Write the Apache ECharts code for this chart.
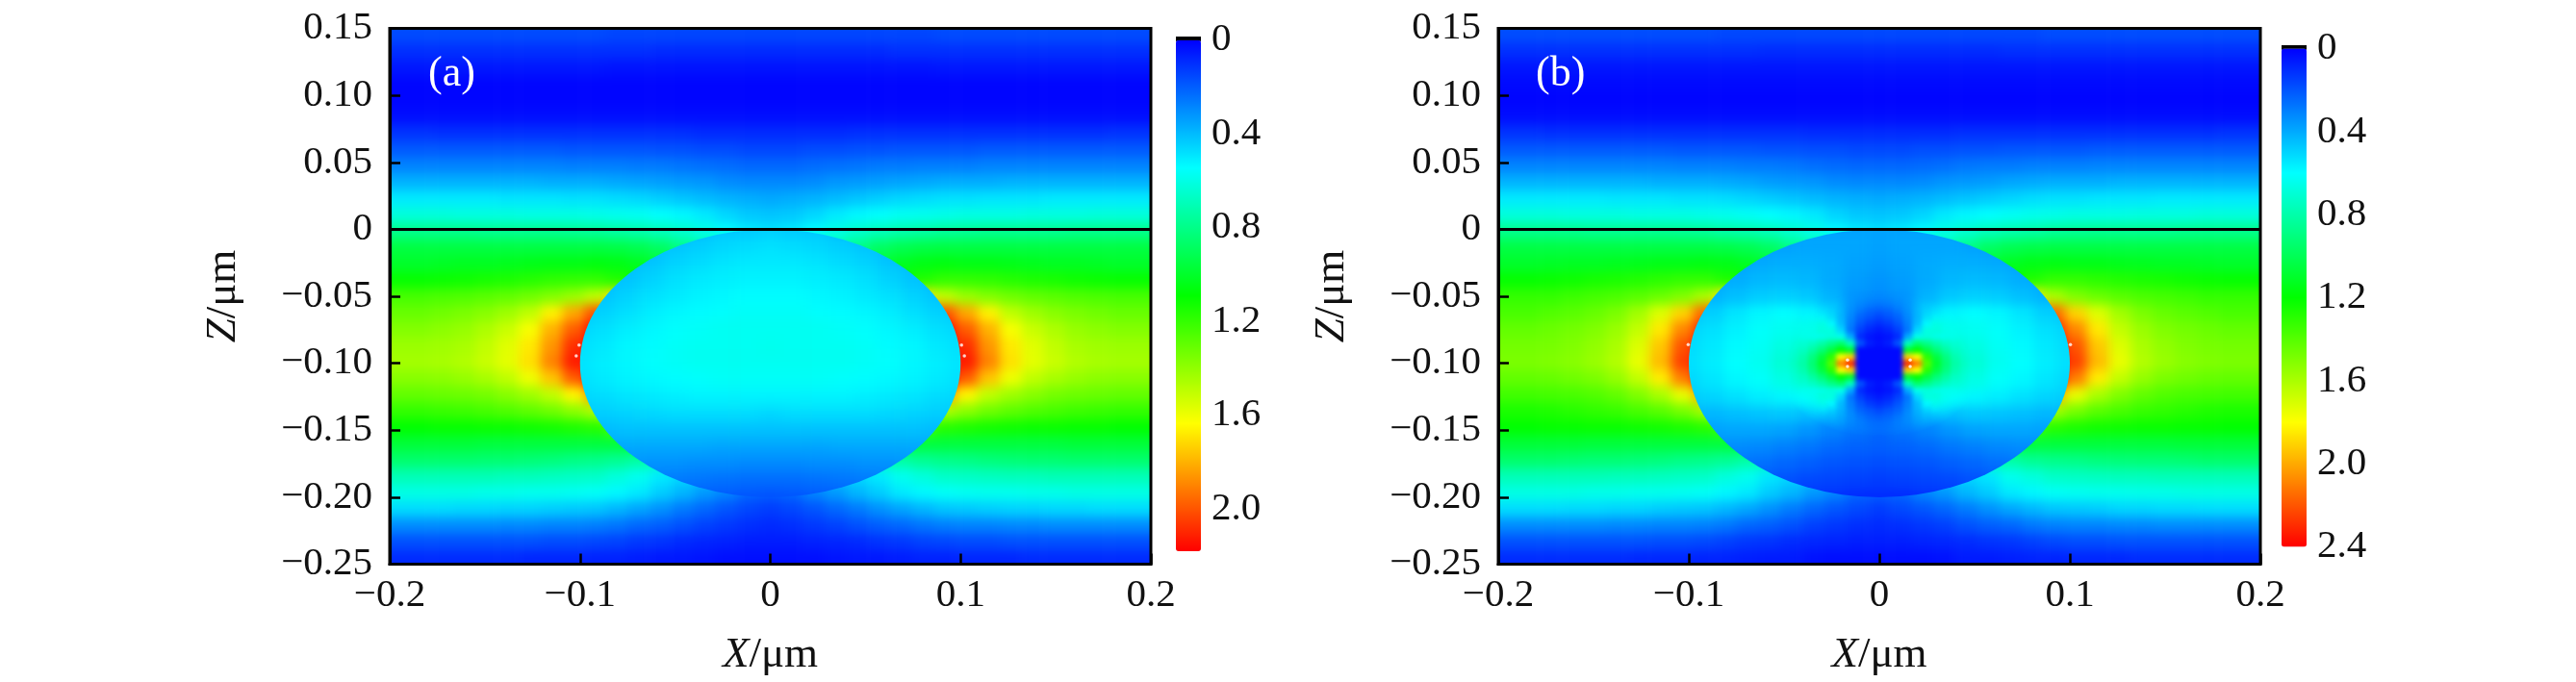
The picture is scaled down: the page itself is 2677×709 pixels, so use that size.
<!DOCTYPE html>
<html><head><meta charset="utf-8">
<script src="https://cdn.jsdelivr.net/npm/echarts@6/dist/echarts.min.js"></script>
<style>
html,body{margin:0;padding:0;background:#fff;width:2677px;height:709px;overflow:hidden}
.abs{position:absolute}
</style></head><body>
<div id="layers"></div>
<div id="overlay" class="abs" style="left:0;top:0;width:2677px;height:709px"></div>
<script>
// ---------- values ----------
const xTickLabels = ['\u22120.2','\u22120.1','0','0.1','0.2'];
const zTickLabels = ['\u22120.25','\u22120.20','\u22120.15','\u22120.10','\u22120.05','0','0.05','0.10','0.15'];
const barTicksA = ['0','0.4','0.8','1.2','1.6','2.0'];
const barTicksB = ['0','0.4','0.8','1.2','1.6','2.0','2.4'];
const maxA = 2.18, maxB = 2.4;

// nodes of the outer field: X >= 0 (the picture is mirror symmetric about X = 0)
const outerX = [0,.0125,.025,.0375,.05,.0625,.075,.0875,.1,.1125,.125,.1375,.15,.1625,.175,.1875,.2];
const outerZ = [.15,.1375,.125,.1125,.1,.0875,.075,.0625,.05,.0375,.025,.0125,0,-.0125,-.025,-.0375,-.05,-.0625,-.075,-.0875,-.1,-.1125,-.125,-.1375,-.15,-.1625,-.175,-.1875,-.2,-.2125,-.225,-.2375,-.25];
const outerA = [
[.15,.15,.15,.15,.15,.15,.15,.15,.16,.16,.16,.16,.16,.16,.16,.16,.16],
[.09,.09,.09,.09,.09,.09,.1,.1,.1,.1,.1,.1,.1,.1,.1,.1,.1],
[.04,.04,.04,.04,.04,.04,.04,.04,.05,.05,.05,.05,.05,.05,.05,.05,.05],
[.01,.01,.01,.01,.01,.01,.01,.01,.01,.01,.01,.01,.01,.01,.01,.01,.01],
[.01,.01,.01,.01,.01,.01,.01,.01,.01,.01,.01,.01,.01,.01,.01,.01,.01],
[.03,.03,.03,.03,.03,.03,.03,.03,.03,.03,.03,.03,.03,.03,.03,.03,.03],
[.09,.09,.09,.09,.1,.1,.1,.1,.1,.1,.1,.1,.1,.1,.1,.1,.11],
[.15,.15,.16,.16,.17,.17,.18,.18,.18,.18,.19,.19,.19,.19,.19,.19,.19],
[.22,.22,.23,.24,.25,.26,.26,.27,.27,.27,.28,.28,.28,.28,.28,.28,.28],
[.29,.29,.3,.32,.33,.34,.35,.36,.37,.37,.37,.38,.38,.38,.38,.38,.38],
[.36,.37,.38,.4,.42,.44,.46,.47,.48,.48,.49,.49,.49,.5,.5,.5,.5],
[.42,.43,.46,.5,.53,.55,.57,.58,.59,.6,.6,.6,.61,.61,.61,.62,.62],
[.48,.5,.54,.6,.65,.69,.72,.74,.76,.77,.78,.78,.78,.78,.79,.79,.79],
[.7,.7,.7,.72,.8,.88,.92,.94,.95,.95,.95,.95,.95,.95,.95,.95,.95],
[.8,.8,.85,.88,.92,.97,1.02,1.05,1.06,1.05,1.05,1.04,1.03,1.02,1.02,1.01,1],
[1,1,1,1,1.02,1.05,1.1,1.16,1.2,1.2,1.19,1.17,1.15,1.14,1.12,1.11,1.1],
[1.7,1.7,1.7,1.7,1.7,1.7,1.7,1.7,1.5,1.42,1.37,1.33,1.3,1.28,1.26,1.25,1.24],
[2.1,2.1,2.1,2.1,2.1,2.1,2.1,2.1,2,1.82,1.66,1.5,1.43,1.38,1.35,1.33,1.31],
[2.18,2.18,2.18,2.18,2.18,2.18,2.18,2.18,2.15,1.98,1.8,1.62,1.52,1.46,1.41,1.39,1.37],
[2.18,2.18,2.18,2.18,2.18,2.18,2.18,2.18,2.18,2.08,1.86,1.68,1.57,1.5,1.45,1.43,1.42],
[2.18,2.18,2.18,2.18,2.18,2.18,2.18,2.18,2.18,2.12,1.9,1.7,1.58,1.52,1.47,1.45,1.44],
[2.18,2.18,2.18,2.18,2.18,2.18,2.18,2.18,2.18,1.98,1.76,1.6,1.5,1.45,1.41,1.39,1.38],
[2,2,2,2,2,2,2,2,1.85,1.65,1.5,1.43,1.38,1.34,1.32,1.31,1.3],
[1.65,1.65,1.65,1.65,1.65,1.65,1.65,1.65,1.46,1.39,1.33,1.29,1.26,1.24,1.22,1.21,1.2],
[1.25,1.25,1.25,1.25,1.25,1.25,1.25,1.25,1.17,1.15,1.13,1.12,1.11,1.11,1.1,1.1,1.09],
[1,1,1,1,1,1,1,.96,.96,.96,.96,.96,.96,.96,.97,.97,.97],
[.65,.65,.65,.65,.66,.7,.74,.78,.8,.81,.83,.84,.85,.85,.86,.86,.86],
[.4,.4,.4,.42,.46,.5,.58,.62,.66,.67,.68,.69,.69,.7,.7,.7,.7],
[.2,.22,.28,.33,.39,.44,.5,.53,.56,.57,.58,.58,.59,.59,.6,.6,.6],
[.13,.15,.18,.22,.26,.31,.35,.39,.42,.43,.44,.45,.45,.46,.46,.47,.47],
[.09,.1,.12,.14,.17,.2,.22,.25,.27,.28,.28,.29,.29,.3,.3,.3,.3],
[.06,.06,.07,.08,.09,.11,.12,.14,.15,.16,.16,.17,.17,.17,.17,.17,.17],
[.03,.03,.03,.04,.05,.05,.06,.07,.07,.08,.08,.08,.09,.09,.09,.09,.09]];
const outerB = [
[.17,.17,.17,.17,.17,.17,.17,.17,.18,.18,.18,.18,.18,.18,.18,.18,.18],
[.1,.1,.1,.1,.1,.1,.11,.11,.11,.11,.11,.11,.11,.11,.11,.11,.11],
[.05,.05,.05,.05,.05,.05,.05,.05,.05,.05,.05,.05,.05,.05,.05,.05,.05],
[.02,.02,.02,.02,.02,.02,.02,.02,.02,.02,.02,.02,.02,.02,.02,.02,.02],
[.01,.01,.01,.01,.01,.01,.01,.01,.01,.01,.01,.01,.01,.01,.01,.01,.01],
[.03,.03,.03,.03,.03,.03,.03,.03,.03,.03,.03,.03,.03,.03,.03,.03,.03],
[.1,.1,.1,.1,.11,.11,.11,.11,.11,.11,.11,.11,.11,.11,.11,.11,.12],
[.17,.17,.18,.18,.19,.19,.2,.2,.2,.2,.21,.21,.21,.21,.21,.21,.21],
[.24,.24,.25,.26,.28,.29,.29,.3,.3,.3,.31,.31,.31,.31,.31,.31,.31],
[.32,.32,.33,.35,.36,.37,.39,.4,.41,.41,.41,.42,.42,.42,.42,.42,.42],
[.4,.41,.42,.44,.46,.48,.5,.52,.53,.53,.54,.54,.54,.55,.55,.55,.55],
[.46,.47,.5,.55,.58,.6,.62,.64,.65,.66,.66,.66,.67,.67,.67,.68,.68],
[.53,.55,.59,.66,.71,.76,.79,.81,.84,.85,.86,.86,.86,.86,.87,.87,.87],
[.77,.77,.77,.79,.88,.97,1.01,1.03,1.04,1.04,1.04,1.04,1.04,1.04,1.04,1.04,1.04],
[.88,.88,.94,.97,1.01,1.07,1.12,1.15,1.16,1.15,1.15,1.14,1.13,1.12,1.12,1.11,1.1],
[1.1,1.1,1.1,1.1,1.12,1.15,1.21,1.27,1.32,1.32,1.3,1.28,1.26,1.25,1.23,1.22,1.21],
[1.85,1.85,1.85,1.85,1.85,1.85,1.85,1.85,1.6,1.5,1.45,1.41,1.38,1.36,1.34,1.32,1.32],
[2.2,2.2,2.2,2.2,2.2,2.2,2.2,2.2,2.15,1.9,1.72,1.58,1.49,1.44,1.41,1.39,1.37],
[2.4,2.4,2.4,2.4,2.4,2.4,2.4,2.4,2.3,2.08,1.85,1.66,1.56,1.5,1.47,1.45,1.43],
[2.4,2.4,2.4,2.4,2.4,2.4,2.4,2.4,2.4,2.2,1.93,1.72,1.6,1.54,1.5,1.48,1.47],
[2.4,2.4,2.4,2.4,2.4,2.4,2.4,2.4,2.4,2.25,1.96,1.75,1.62,1.56,1.52,1.5,1.49],
[2.4,2.4,2.4,2.4,2.4,2.4,2.4,2.4,2.4,2.1,1.84,1.66,1.55,1.49,1.46,1.44,1.43],
[2.2,2.2,2.2,2.2,2.2,2.2,2.2,2.2,2,1.75,1.6,1.5,1.43,1.39,1.37,1.36,1.35],
[1.8,1.8,1.8,1.8,1.8,1.8,1.8,1.8,1.58,1.48,1.41,1.37,1.33,1.31,1.29,1.27,1.26],
[1.35,1.35,1.35,1.35,1.35,1.35,1.35,1.35,1.29,1.26,1.24,1.23,1.22,1.22,1.21,1.21,1.2],
[1.1,1.1,1.1,1.1,1.1,1.1,1.1,1.06,1.06,1.06,1.06,1.06,1.06,1.06,1.07,1.07,1.07],
[.72,.72,.72,.72,.73,.77,.81,.86,.88,.89,.91,.92,.93,.93,.94,.95,.95],
[.44,.44,.44,.46,.5,.54,.64,.68,.73,.74,.75,.76,.76,.77,.77,.77,.77],
[.22,.24,.31,.36,.43,.48,.55,.58,.62,.63,.64,.64,.65,.65,.66,.66,.66],
[.14,.17,.2,.24,.29,.34,.39,.43,.46,.47,.48,.5,.5,.51,.51,.52,.52],
[.1,.11,.13,.15,.19,.22,.24,.28,.3,.31,.31,.32,.32,.33,.33,.33,.33],
[.07,.07,.08,.09,.1,.12,.13,.15,.17,.18,.18,.19,.19,.19,.19,.19,.19],
[.03,.03,.03,.04,.06,.06,.07,.08,.08,.09,.09,.09,.1,.1,.1,.1,.1]];

// nodes of the field inside the sphere
const innerX = [0,.0125,.025,.0375,.05,.0625,.075,.0875,.1,.1125];
const innerZ = [0,-.0125,-.025,-.0375,-.05,-.0625,-.075,-.0875,-.1,-.1125,-.125,-.1375,-.15,-.1625,-.175,-.1875,-.2];
const innerA = [
[.44,.43,.42,.4,.39,.38,.38,.38,.38,.38],
[.48,.47,.46,.44,.42,.4,.39,.38,.38,.38],
[.5,.5,.49,.47,.45,.42,.4,.39,.38,.38],
[.52,.52,.51,.5,.48,.45,.42,.4,.39,.39],
[.54,.54,.53,.52,.5,.48,.45,.42,.41,.4],
[.56,.56,.55,.54,.53,.51,.48,.45,.43,.42],
[.57,.57,.57,.56,.55,.53,.51,.48,.46,.45],
[.58,.57,.57,.57,.56,.54,.53,.5,.48,.47],
[.57,.57,.57,.57,.56,.55,.53,.51,.49,.48],
[.56,.56,.56,.55,.54,.53,.52,.5,.48,.47],
[.52,.52,.52,.52,.51,.5,.49,.47,.46,.45],
[.46,.47,.47,.47,.47,.46,.45,.44,.43,.42],
[.41,.41,.41,.41,.41,.41,.41,.4,.39,.39],
[.35,.35,.35,.36,.36,.36,.36,.36,.36,.36],
[.29,.29,.3,.3,.31,.31,.32,.32,.32,.32],
[.23,.23,.24,.25,.26,.27,.27,.28,.28,.28],
[.17,.18,.19,.2,.21,.22,.23,.24,.24,.24]];
const innerB = [
[.38,.38,.38,.38,.37,.36,.36,.36,.36,.36],
[.38,.39,.39,.39,.38,.37,.36,.36,.36,.36],
[.37,.38,.4,.41,.41,.4,.38,.37,.36,.36],
[.35,.37,.4,.43,.44,.43,.41,.39,.38,.37],
[.33,.35,.42,.47,.49,.48,.45,.42,.4,.39],
[.26,.31,.5,.58,.6,.58,.54,.49,.46,.45],
[.12,.27,.75,.66,.63,.61,.57,.53,.5,.49],
[.02,.2,1.15,.8,.67,.62,.59,.55,.52,.51],
[.02,.02,1.35,.88,.7,.63,.6,.56,.53,.52],
[.02,.2,1.15,.8,.66,.61,.58,.54,.51,.5],
[.08,.24,.62,.6,.58,.56,.53,.5,.48,.47],
[.2,.28,.38,.45,.47,.46,.45,.43,.42,.42],
[.24,.27,.31,.35,.38,.39,.39,.38,.37,.37],
[.22,.23,.25,.28,.3,.32,.33,.33,.33,.33],
[.18,.19,.2,.22,.24,.26,.28,.29,.29,.29],
[.14,.15,.16,.17,.19,.2,.22,.24,.24,.24],
[.1,.1,.11,.12,.13,.15,.17,.18,.18,.18]];

// finer reading around the central core of panel (b): |X| and |Z + 0.1|
const coreX = [0,.005,.01,.015,.02,.025,.03,.035,.04,.045,.05];
const coreDZ = [0,.005,.01,.015,.02,.025,.03,.035,.04,.045,.05];
const coreB = [
[.02,.02,.02,2.3,2.1,1.4,1.1,.93,.8,.72,.67],
[.02,.02,.02,1.9,1.8,1.3,1.05,.9,.78,.7,.66],
[.02,.02,.02,1.1,1.2,1.05,.92,.82,.73,.68,.64],
[.04,.07,.2,.75,.95,.88,.8,.74,.68,.65,.63],
[.03,.05,.1,.4,.65,.68,.66,.64,.62,.62,.61],
[.06,.09,.15,.28,.5,.67,.68,.64,.62,.61,.6],
[.11,.14,.2,.3,.44,.58,.65,.63,.61,.6,.59],
[.17,.2,.24,.32,.42,.52,.6,.61,.6,.59,.58],
[.22,.24,.28,.34,.42,.49,.55,.58,.58,.58,.57],
[.27,.28,.31,.36,.42,.47,.52,.55,.56,.56,.56],
[.3,.31,.33,.37,.42,.46,.5,.53,.54,.55,.55]];

// points beyond the colour scale, drawn white in the picture
const whiteA = [[-.1005,-.0865],[-.102,-.0945],[.1005,-.0865],[.102,-.0945]];
const whiteB = [[-.1003,-.086],[.1003,-.086],[-.0167,-.0975],[-.0167,-.1025],[.0162,-.0975],[.0162,-.1025]];

// ---------- layout and style ----------
const FONT = '"Liberation Serif"';
const RAMP = ['#0000ff','#00ffff','#00ff00','#ffff00','#ff0000'];
const plotA = {x:405,y:29.5,w:791,h:557};
const plotB = {x:1557,y:29.5,w:792,h:557};

function heatLayer(plot, maxV, xHalf, zNodes, rows, opt){
  const M = 70, pad = opt.pad;
  const xs = xHalf.slice(1).reverse().map(v=>-v).concat(xHalf);
  const nx = xs.length, nz = zNodes.length;
  const cw = (xHalf[1]-xHalf[0])/.4*plot.w;
  const ch = Math.abs(zNodes[1]-zNodes[0])/.4*plot.h;
  const wrap = document.createElement('div');
  wrap.className='abs';
  wrap.style.cssText += `left:${plot.x}px;top:${plot.y}px;width:${plot.w}px;height:${plot.h}px;overflow:hidden;`;
  if (opt.clip) wrap.style.clipPath = opt.clip;
  if (opt.mask){ wrap.style.maskImage = opt.mask; wrap.style.webkitMaskImage = opt.mask; }
  const el = document.createElement('div');
  el.className='abs';
  el.style.cssText += `left:${-M}px;top:${-M}px;width:${plot.w+2*M}px;height:${plot.h+2*M}px;filter:blur(${opt.blur}px);`;
  wrap.appendChild(el);
  document.getElementById('layers').appendChild(wrap);
  const data = [];
  const clampI=(i,n)=>Math.max(0,Math.min(n-1,i));
  const cols = nx+2*pad, rws = nz+2*pad;
  for(let j=0;j<rws;j++){
    const r = rows[clampI(j-pad,nz)];
    for(let i=0;i<cols;i++){
      const ii = clampI(i-pad,nx);
      const h = ii-(xHalf.length-1);
      data.push([i,j,r[Math.abs(h)]]);
    }
  }
  const px = v => (v+.2)/.4*plot.w;
  const py = z => (.15-z)/.4*plot.h;
  const gridLeft = M+px(xs[0])-cw/2-pad*cw;
  const gridTop = M+py(zNodes[0])-ch/2-pad*ch;
  const chart = echarts.init(el,null,{renderer:'canvas'});
  chart.setOption({
    animation:false,
    grid:{left:gridLeft,top:gridTop,width:cols*cw,height:rws*ch},
    xAxis:{type:'category',show:false,data:Array.from({length:cols},(_, i)=>i)},
    yAxis:{type:'category',show:false,inverse:true,data:Array.from({length:rws},(_, i)=>i)},
    visualMap:{show:false,min:0,max:maxV,inRange:{color:RAMP}},
    series:[{type:'heatmap',data,progressive:0,emphasis:{disabled:true},silent:true,clip:false}]
  });
}

function circleClip(plot){
  const rx=.1/.4*plot.w, ry=.1/.4*plot.h, cx=plot.w/2, cy=.25/.4*plot.h;
  return `ellipse(${rx}px ${ry}px at ${cx}px ${cy}px)`;
}
function coreMask(plot){
  const rx=.055/.4*plot.w, ry=.055/.4*plot.h, cx=plot.w/2, cy=.25/.4*plot.h;
  return `radial-gradient(ellipse ${rx}px ${ry}px at ${cx}px ${cy}px, #000 70%, transparent 100%)`;
}
// Mirror the core table about Z = -0.1 for its rows
const coreRows = coreB.slice(1).reverse().concat(coreB);
const coreZ = coreDZ.slice(1).reverse().map(d=>-.1+d).concat(coreDZ.map(d=>-.1-d));

heatLayer(plotA,maxA,outerX,outerZ,outerA,{pad:4,blur:6});
heatLayer(plotA,maxA,innerX,innerZ,innerA,{pad:4,blur:7,clip:circleClip(plotA)});
heatLayer(plotB,maxB,outerX,outerZ,outerB,{pad:4,blur:6});
heatLayer(plotB,maxB,innerX,innerZ,innerB,{pad:4,blur:6,clip:circleClip(plotB)});
heatLayer(plotB,maxB,coreX,coreZ,coreRows,{pad:1,blur:2.5,mask:coreMask(plotB)});

const txt = {fontFamily:FONT,fontSize:41,color:'#111'};
const nameStyle = {fontFamily:FONT,fontSize:45,color:'#111',rich:{i:{fontFamily:FONT,fontSize:45,fontStyle:'italic',color:'#111'},r:{fontFamily:FONT,fontSize:45,color:'#111'}}};
const lineBlack = {color:'#000',width:3};
const tickBlack = {inside:true,length:11,lineStyle:{color:'#000',width:2.5}};

function plotAxes(g){
  return {
    x:{gridIndex:g,type:'value',min:-.2,max:.2,interval:.1,splitLine:{show:false},
       axisLine:{onZero:false,lineStyle:lineBlack},axisTick:tickBlack,
       axisLabel:{...txt,margin:12,formatter:v=>xTickLabels[Math.round((v+.2)/.1)]},
       name:'{i|X}{r|/\u03bcm}',nameLocation:'middle',nameGap:72,nameTextStyle:nameStyle},
    y:{gridIndex:g,type:'value',min:-.25,max:.15,interval:.05,splitLine:{show:false},
       axisLine:{onZero:false,lineStyle:lineBlack},axisTick:tickBlack,
       axisLabel:{...txt,margin:18,formatter:v=>zTickLabels[Math.round((v+.25)/.05)]},
       name:'{i|Z}{r|/\u03bcm}',nameLocation:'middle',nameGap:150,nameRotate:90,nameTextStyle:nameStyle}
  };
}
function barAxes(g,maxV,labels){
  return {
    x:{gridIndex:g,type:'value',show:false,min:0,max:1},
    y:{gridIndex:g,type:'value',position:'right',inverse:true,min:0,max:maxV,interval:.4,
       axisLine:{show:false},axisTick:{show:false},splitLine:{show:false},
       axisLabel:{...txt,margin:11,showMaxLabel:true,hideOverlap:false,formatter:v=>{const s=labels[Math.round(v/.4)];return Math.abs(v/.4-Math.round(v/.4))<.01&&s!==undefined?s:'';}}}
  };
}
const pa=plotAxes(0), pb=plotAxes(1), ba=barAxes(2,maxA,barTicksA), bb=barAxes(3,maxB,barTicksB);
const zeroLine = [[-.2,0],[.2,0]];
function zeroSeries(i){return {type:'line',xAxisIndex:i,yAxisIndex:i,data:zeroLine,symbol:'none',silent:true,lineStyle:{color:'#000',width:3}};}
function whiteSeries(i,d){return {type:'scatter',xAxisIndex:i,yAxisIndex:i,data:d,symbolSize:3.5,silent:true,itemStyle:{color:'#fff'}};}

const overlayChart = echarts.init(document.getElementById('overlay'),null,{renderer:'canvas'});
overlayChart.setOption({
  animation:false,
  backgroundColor:'transparent',
  grid:[
    {left:plotA.x,top:plotA.y,width:plotA.w,height:plotA.h,show:true,borderColor:'#000',borderWidth:3,backgroundColor:'transparent'},
    {left:plotB.x,top:plotB.y,width:plotB.w,height:plotB.h,show:true,borderColor:'#000',borderWidth:3,backgroundColor:'transparent'},
    {left:1222,top:41.7,width:26,height:531.3},
    {left:2371,top:50.5,width:26,height:518}
  ],
  xAxis:[pa.x,pb.x,ba.x,bb.x],
  yAxis:[pa.y,pb.y,ba.y,bb.y],
  visualMap:[
    {type:'continuous',seriesIndex:[],min:0,max:maxA,inverse:true,calculable:false,padding:0,left:1222,top:41.7,itemWidth:26,itemHeight:531.3,text:['',''],inRange:{color:RAMP}},
    {type:'continuous',seriesIndex:[],min:0,max:maxB,inverse:true,calculable:false,padding:0,left:2371,top:50.5,itemWidth:26,itemHeight:518,text:['',''],inRange:{color:RAMP}}
  ],
  series:[zeroSeries(0),zeroSeries(1),whiteSeries(0,whiteA),whiteSeries(1,whiteB)],
  graphic:[
    {type:'rect',left:1222,top:38,shape:{width:26,height:5},style:{fill:'#000'}},
    {type:'rect',left:2371,top:47,shape:{width:26,height:5},style:{fill:'#000'}},
    {type:'text',left:445,top:55,style:{text:'(a)',fill:'#fff',fontFamily:FONT,fontSize:44}},
    {type:'text',left:1596,top:55,style:{text:'(b)',fill:'#fff',fontFamily:FONT,fontSize:44}}
  ]
});
</script>
</body></html>
